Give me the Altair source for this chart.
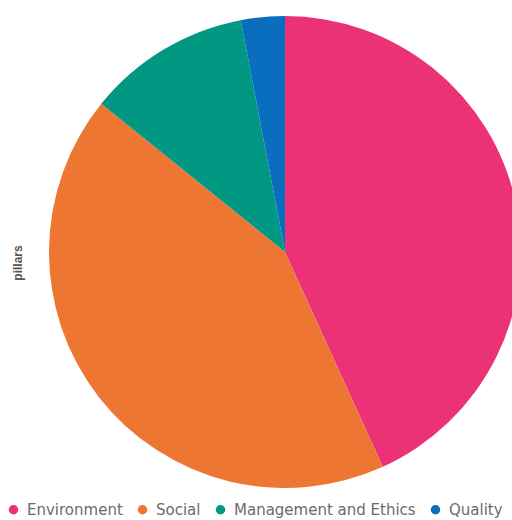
import altair as alt
import pandas as pd

pillars = ["Environment", "Social", "Management and Ethics", "Quality"]
shares = [43.2, 42.6, 11.2, 3.0]
colors = ["#EC3277", "#EE7633", "#009783", "#0A6EBE"]

df = pd.DataFrame({"pillar": pillars, "share": shares, "idx": list(range(len(pillars)))})

pie = alt.Chart(df).mark_arc(radius=236).encode(
    theta=alt.Theta("share:Q", stack=True),
    order=alt.Order("idx:Q"),
    color=alt.Color(
        "pillar:N",
        sort=pillars,
        scale=alt.Scale(domain=pillars, range=colors),
        legend=alt.Legend(
            orient="none",
            legendX=6,
            legendY=502,
            direction="horizontal",
            title=None,
            symbolType="circle",
            symbolSize=90,
            symbolStrokeWidth=0,
            labelFont="DejaVu Sans",
            labelFontSize=15,
            labelColor="#6b6b6b",
            labelLimit=400,
            columnPadding=12,
            labelOffset=6,
        ),
    ),
    x=alt.value(285),
    y=alt.value(252),
)

label_df = pd.DataFrame({"t": ["pillars"]})
label = alt.Chart(label_df).mark_text(
    angle=270, fontWeight="bold", fontSize=12, font="Liberation Sans", color="#555555"
).encode(text="t:N", x=alt.value(18), y=alt.value(263))

chart = alt.layer(pie, label).properties(
    width=512, height=520, padding=0, autosize=alt.AutoSizeParams(type="none")
).configure_view(stroke=None)

chart.save("out.html", embed_options={"renderer": "svg", "actions": False})
